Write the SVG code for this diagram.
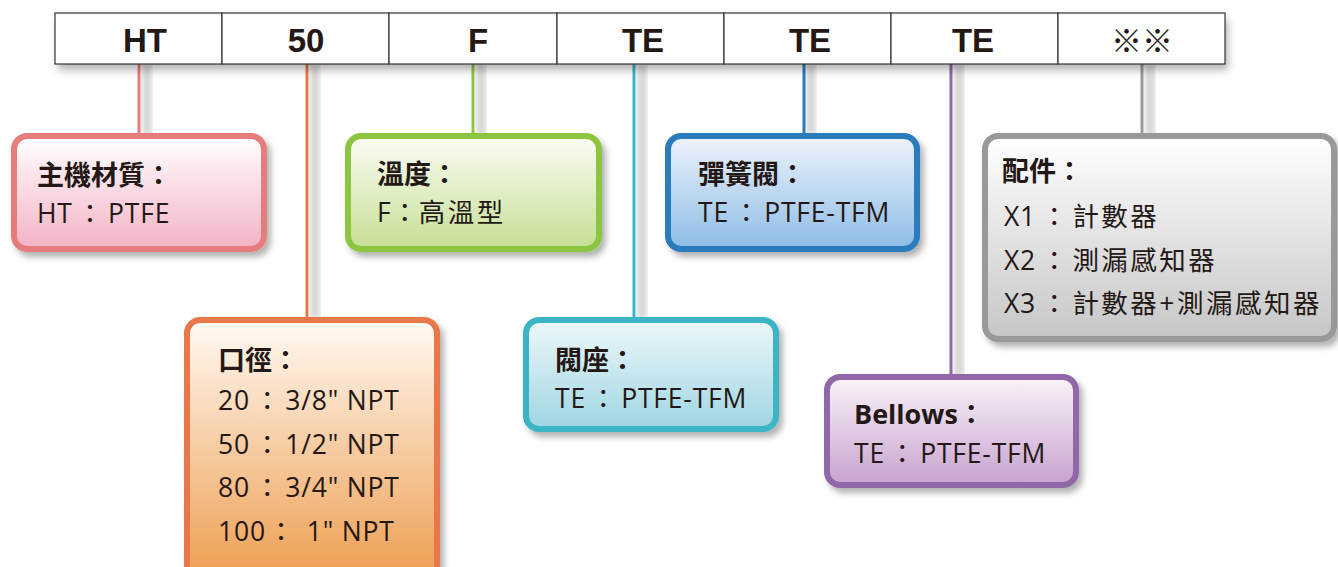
<svg xmlns="http://www.w3.org/2000/svg" width="1338" height="567" viewBox="0 0 1338 567">
<defs>
<filter id="sh" x="-10%" y="-10%" width="130%" height="140%"><feDropShadow dx="4" dy="5" stdDeviation="3" flood-color="#000" flood-opacity="0.3"/></filter>
<filter id="bsh" x="-5%" y="-20%" width="110%" height="160%"><feDropShadow dx="3" dy="6" stdDeviation="4" flood-color="#000" flood-opacity="0.3"/></filter>
<filter id="lsh"><feGaussianBlur stdDeviation="2"/></filter>
<linearGradient id="gPink" x1="0" y1="0" x2="0" y2="1"><stop offset="0" stop-color="#fff"/><stop offset="1" stop-color="#f2b2c4"/></linearGradient>
<linearGradient id="gGreen" x1="0" y1="0" x2="0" y2="1"><stop offset="0" stop-color="#fbfdf5"/><stop offset="1" stop-color="#c5df95"/></linearGradient>
<linearGradient id="gBlue" x1="0" y1="0" x2="0" y2="1"><stop offset="0" stop-color="#eef3fb"/><stop offset="1" stop-color="#8dbce6"/></linearGradient>
<linearGradient id="gGray" x1="0" y1="0" x2="0" y2="1"><stop offset="0" stop-color="#fff"/><stop offset="1" stop-color="#c6c6c6"/></linearGradient>
<linearGradient id="gOrange" x1="0" y1="0" x2="0" y2="1"><stop offset="0" stop-color="#fffaf4"/><stop offset="1" stop-color="#ee9c4e"/></linearGradient>
<linearGradient id="gTeal" x1="0" y1="0" x2="0" y2="1"><stop offset="0" stop-color="#eef8fa"/><stop offset="1" stop-color="#9ed5e2"/></linearGradient>
<linearGradient id="gPurple" x1="0" y1="0" x2="0" y2="1"><stop offset="0" stop-color="#faf3f8"/><stop offset="1" stop-color="#c7a3cf"/></linearGradient>
</defs>
<style>
.cell{fill:#fff;stroke:#333;stroke-width:1.2}
.code{font-family:"Liberation Sans",Arial,sans-serif;font-weight:bold;font-size:33px;fill:#231815;text-anchor:middle}
.box{stroke-width:6}
.hd{font-family:"Open Sans","Noto Sans CJK TC",sans-serif;font-weight:bold;font-size:27px;fill:#231815}
.tx{font-family:"Open Sans","Noto Sans CJK TC",sans-serif;font-size:26.5px;letter-spacing:0.8px;fill:#231815}
.cj{letter-spacing:2.5px}
.ln{stroke-width:3;fill:none}
.lshadow{fill:#d9d9d9;filter:url(#lsh)}
</style>

<g id="connectors">
<rect class="lshadow" x="142" y="64" width="10" height="70"/>
<rect class="lshadow" x="310" y="64" width="10" height="254"/>
<rect class="lshadow" x="476" y="64" width="10" height="70"/>
<rect class="lshadow" x="637" y="64" width="10" height="254"/>
<rect class="lshadow" x="806" y="64" width="10" height="70"/>
<rect class="lshadow" x="954" y="64" width="10" height="311"/>
<rect class="lshadow" x="1145" y="64" width="10" height="70"/>
<line class="ln" x1="139" y1="64" x2="139" y2="135" stroke="#e77b7b"/>
<line class="ln" x1="307" y1="64" x2="307" y2="319" stroke="#e8784a"/>
<line class="ln" x1="473" y1="64" x2="473" y2="135" stroke="#8cc63f"/>
<line class="ln" x1="634" y1="64" x2="634" y2="319" stroke="#3ab5c6"/>
<line class="ln" x1="804" y1="64" x2="804" y2="135" stroke="#2b7bbd"/>
<line class="ln" x1="951" y1="64" x2="951" y2="376" stroke="#9068a8"/>
<line class="ln" x1="1142" y1="64" x2="1142" y2="135" stroke="#999"/>
</g>

<g id="codebar">
<rect x="55" y="13" width="1170" height="51" fill="#fff" filter="url(#bsh)"/>
<rect class="cell" x="55" y="13" width="167" height="51"/>
<rect class="cell" x="222" y="13" width="167" height="51"/>
<rect class="cell" x="389" y="13" width="168" height="51"/>
<rect class="cell" x="557" y="13" width="167" height="51"/>
<rect class="cell" x="724" y="13" width="167" height="51"/>
<rect class="cell" x="891" y="13" width="167" height="51"/>
<rect class="cell" x="1058" y="13" width="167" height="51"/>
<text class="code" x="145" y="52">HT</text>
<text class="code" x="306" y="52">50</text>
<text class="code" x="478" y="52">F</text>
<text class="code" x="643" y="52">TE</text>
<text class="code" x="810" y="52">TE</text>
<text class="code" x="973" y="52">TE</text>
<text class="code" x="1142" y="52" style="font-family:'Noto Sans CJK TC',sans-serif;font-weight:normal;font-size:31px">※※</text>
</g>

<g id="node-material">
<rect class="box" x="14" y="136" width="250" height="113" rx="13" fill="url(#gPink)" stroke="#e77b7b" filter="url(#sh)"/>
<text class="hd" x="37" y="185">主機材質：</text>
<text class="tx" x="37" y="223">HT<tspan dx="4">：</tspan><tspan dx="4">PTFE</tspan></text>
</g>

<g id="node-temp">
<rect class="box" x="348" y="136" width="251" height="113" rx="13" fill="url(#gGreen)" stroke="#8cc63f" filter="url(#sh)"/>
<text class="hd" x="377" y="184">溫度：</text>
<text class="tx" x="377" y="222">F：<tspan class="cj">高溫型</tspan></text>
</g>

<g id="node-spring">
<rect class="box" x="668" y="136" width="249" height="113" rx="13" fill="url(#gBlue)" stroke="#2b7bbd" filter="url(#sh)"/>
<text class="hd" x="698" y="184">彈簧閥：</text>
<text class="tx" x="698" y="222">TE<tspan dx="4">：</tspan><tspan dx="4">PTFE-TFM</tspan></text>
</g>

<g id="node-accessory">
<rect class="box" x="985" y="136" width="349" height="203" rx="13" fill="url(#gGray)" stroke="#999" filter="url(#sh)"/>
<text class="hd" x="1002" y="181">配件：</text>
<text class="tx" x="1004" y="226">X1<tspan dx="5">：</tspan><tspan dx="4" class="cj">計數器</tspan></text>
<text class="tx" x="1004" y="270">X2<tspan dx="5">：</tspan><tspan dx="4" class="cj">測漏感知器</tspan></text>
<text class="tx" x="1004" y="313">X3<tspan dx="5">：</tspan><tspan dx="4" class="cj">計數器+測漏感知器</tspan></text>
</g>

<g id="node-size">
<rect class="box" x="187" y="320" width="250" height="262" rx="13" fill="url(#gOrange)" stroke="#e8784a" filter="url(#sh)"/>
<text class="hd" x="218" y="370">口徑：</text>
<text class="tx" x="218" y="410">20<tspan dx="4">：</tspan><tspan dx="4">3/8" NPT</tspan></text>
<text class="tx" x="218" y="454">50<tspan dx="4">：</tspan><tspan dx="4">1/2" NPT</tspan></text>
<text class="tx" x="218" y="497">80<tspan dx="4">：</tspan><tspan dx="4">3/4" NPT</tspan></text>
<text class="tx" x="218" y="541">100<tspan dx="2">：</tspan><tspan dx="4">  1" NPT</tspan></text>
</g>

<g id="node-seat">
<rect class="box" x="526" y="320" width="250" height="109" rx="13" fill="url(#gTeal)" stroke="#3ab5c6" filter="url(#sh)"/>
<text class="hd" x="555" y="370">閥座：</text>
<text class="tx" x="555" y="408">TE<tspan dx="4">：</tspan><tspan dx="4">PTFE-TFM</tspan></text>
</g>

<g id="node-bellows">
<rect class="box" x="827" y="377" width="249" height="108" rx="13" fill="url(#gPurple)" stroke="#9068a8" filter="url(#sh)"/>
<text class="hd" x="854" y="424">Bellows：</text>
<text class="tx" x="854" y="463">TE<tspan dx="4">：</tspan><tspan dx="4">PTFE-TFM</tspan></text>
</g>
</svg>
